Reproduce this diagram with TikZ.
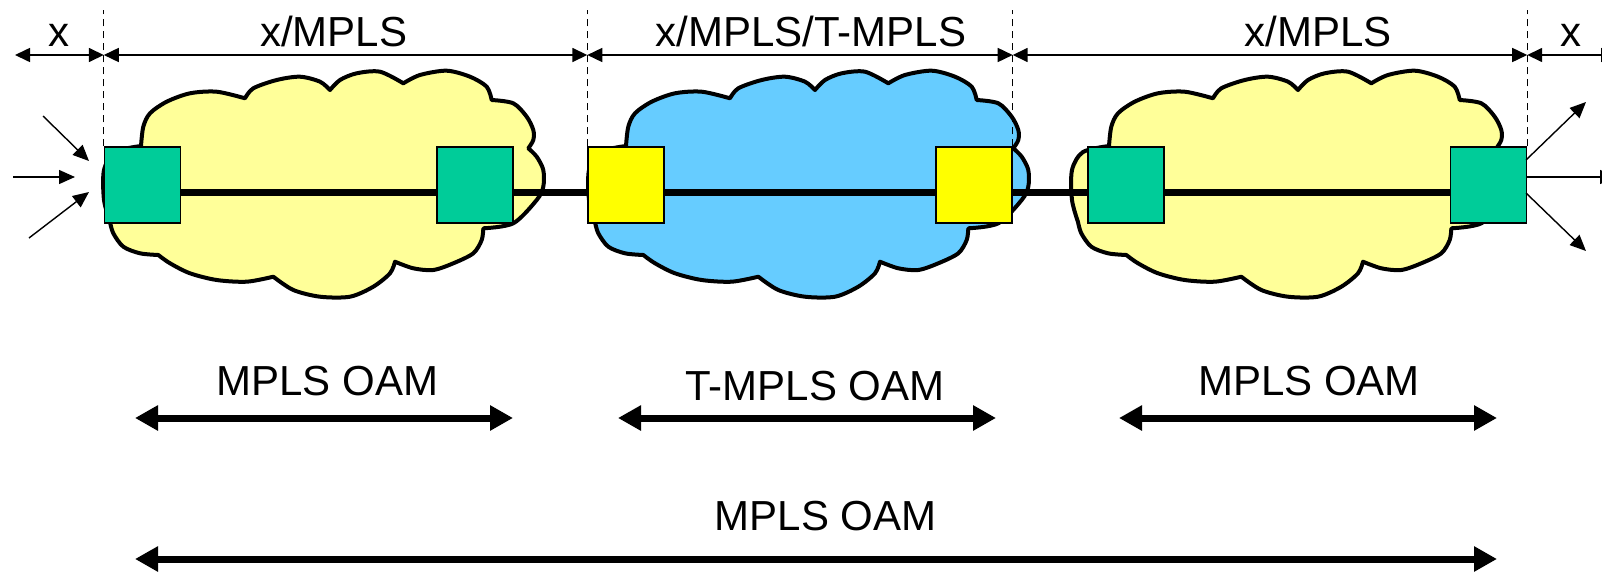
\documentclass[tikz,border=0pt]{standalone}
\usepackage{fontspec}
\setmainfont{Liberation Sans}
\usetikzlibrary{arrows.meta}

\definecolor{cloudyellow}{HTML}{FFFF99}
\definecolor{cloudblue}{HTML}{66CCFF}
\definecolor{nodegreen}{HTML}{00CC99}
\definecolor{nodeyellow}{HTML}{FFFF00}

\pgfdeclarelayer{clouds}
\pgfdeclarelayer{rails}
\pgfsetlayers{clouds,rails,main}

\tikzset{
  lbl/.style={font=\fontsize{21}{25}\selectfont, inner sep=0pt, anchor=base},
  nbox/.style={draw=black, line width=0.7pt, minimum width=38pt, minimum height=38pt, inner sep=0pt},
  greenbox/.style={nbox, fill=nodegreen},
  yellowbox/.style={nbox, fill=nodeyellow},
  cloudline/.style={draw=black, line width=2pt, line join=round},
  guide/.style={line width=0.6pt, dash pattern=on 3.5pt off 2.5pt},
  dim/.style={line width=0.8pt, arrows={Triangle[length=7.5pt,width=7pt]-Triangle[length=7.5pt,width=7pt]}},
  flow/.style={line width=0.7pt, arrows={-Triangle[length=8pt,width=7pt]}},
  rail/.style={line width=3.5pt},
  oam/.style={line width=3.5pt, arrows={Triangle[length=11.5pt,width=12pt]-Triangle[length=11.5pt,width=12pt]}}
}

% cloud outline built from lobes; #1 = horizontal shift, #2 = fill colour
\newcommand\cloudat[2]{%
  \draw[cloudline, fill=#2, shift={(#1,0)}]
    plot[smooth] coordinates {(141,146) (143.3,126.7) (150,113.3) (166.7,101.7) (190,93.3) (216.7,91.7) (245,98.3)}
    -- plot[smooth] coordinates {(245,98.3) (253.3,88.3) (276.7,80) (300,76.7) (320,81.7) (330,90)}
    -- plot[smooth] coordinates {(330,90) (340,80) (356.7,73.3) (380,71.7) (403.3,83.3)}
    -- plot[smooth] coordinates {(403.3,83.3) (420,75) (446.7,70.7) (470,76.7) (486.7,86.7) (491.7,100)}
    -- plot[smooth] coordinates {(491.7,100) (513.3,103.3) (526.7,116.7) (533.3,130) (533.3,140) (528.3,148.3)}
    -- plot[smooth] coordinates {(528.3,148.3) (536.7,156.7) (543.3,170) (543.3,186.7) (536.7,200) (513.3,223.3) (483.3,228.3)}
    -- plot[smooth] coordinates {(483.3,228.3) (481.7,240) (473.3,253.3) (453.3,263.3) (433.3,270) (413.3,268.3) (395,261.7)}
    -- plot[smooth] coordinates {(395,261.7) (390,273.3) (373.3,286.7) (350,296.7) (320,296.7) (293.3,290) (273.3,276.7)}
    -- plot[smooth] coordinates {(273.3,276.7) (246.7,281.7) (216.7,280) (190,273.3) (170,263.3) (158.3,255)}
    -- plot[smooth] coordinates {(158.3,255) (140,253.3) (123.3,246.7) (113.3,233.3) (110,222)}
    -- plot[smooth] coordinates {(110,222) (104,200) (104,170) (115,152) (141,146)}
    -- cycle;%
}

\begin{document}
\begin{tikzpicture}[x=0.5pt, y=-0.5pt]
  \useasboundingbox (0,0) rectangle (1602,573);

  % reference heights
  \coordinate (top) at (0,10);
  \coordinate (dim) at (0,55);
  \coordinate (rail) at (0,192);

  % domains
  \begin{pgfonlayer}{clouds}
    \cloudat{0}{cloudyellow}
    \cloudat{485}{cloudblue}
    \cloudat{968}{cloudyellow}
  \end{pgfonlayer}

  % edge and domain-border nodes
  \node[greenbox]  (b1) at (142.5,185) {};
  \node[greenbox]  (b2) at (475,185) {};
  \node[yellowbox] (y1) at (626,185) {};
  \node[yellowbox] (y2) at (974,185) {};
  \node[greenbox]  (b3) at (1126,185) {};
  \node[greenbox]  (b4) at (1488.5,185) {};

  % path through the domains, under the nodes
  \begin{pgfonlayer}{rails}
    \draw[rail] (b1.east |- rail) -- (b4.west |- rail);
  \end{pgfonlayer}

  % domain boundaries
  \draw[guide] (b1.north west) -- (b1.north west |- top);
  \draw[guide] (y1.north west) -- (y1.north west |- top);
  \draw[guide] (y2.north east) -- (y2.north east |- top);
  \draw[guide] (b4.north east) -- (b4.north east |- top);

  % layer extents
  \coordinate (dimL) at (15,55);
  \coordinate (dimR) at (1616,55);
  \draw[dim] (dimL) -- (b1.north west |- dim);
  \draw[dim] (b1.north west |- dim) -- (y1.north west |- dim);
  \draw[dim] (y1.north west |- dim) -- (y2.north east |- dim);
  \draw[dim] (y2.north east |- dim) -- (b4.north east |- dim);
  \draw[dim] (b4.north east |- dim) -- (dimR);

  \node[lbl] (tx1) at (59,46.7) {x};
  \node[lbl] (tm1) at (333.7,46.7) {x/MPLS};
  \node[lbl] (tmt) at (811,46.7) {x/MPLS/T-MPLS};
  \node[lbl] (tm2) at (1318,46.7) {x/MPLS};
  \node[lbl] (tx2) at (1571,46.7) {x};

  % client traffic in and out
  \coordinate (in1) at (43,116);
  \coordinate (in1e) at (89,161);
  \coordinate (in2) at (13,177);
  \coordinate (in2e) at (75,177);
  \coordinate (in3) at (29,238);
  \coordinate (in3e) at (89,192);
  \draw[flow] (in1) -- (in1e);
  \draw[flow] (in2) -- (in2e);
  \draw[flow] (in3) -- (in3e);

  \coordinate (out1s) at (1526,160);
  \coordinate (out2s) at (1526,177);
  \coordinate (out3s) at (1526,193);
  \coordinate (out1) at (1586,102);
  \coordinate (out2) at (1616,177);
  \coordinate (out3) at (1586,251);
  \draw[flow] (out1s) -- (out1);
  \draw[flow] (out2s) -- (out2);
  \draw[flow] (out3s) -- (out3);

  % OAM scopes
  \node[lbl] (oam1) at (327.5,395) {MPLS OAM};
  \node[lbl] (oam2) at (815,400) {T-MPLS OAM};
  \node[lbl] (oam3) at (1309,395) {MPLS OAM};
  \node[lbl] (oam4) at (825.8,530.7) {MPLS OAM};

  \coordinate (a1l) at (135,418);
  \coordinate (a1r) at (513,418);
  \coordinate (a2l) at (618,418);
  \coordinate (a2r) at (996,418);
  \coordinate (a3l) at (1119,418);
  \coordinate (a3r) at (1497,418);
  \coordinate (a4l) at (135,559);
  \coordinate (a4r) at (1497,559);
  \draw[oam] (a1l) -- (a1r);
  \draw[oam] (a2l) -- (a2r);
  \draw[oam] (a3l) -- (a3r);
  \draw[oam] (a4l) -- (a4r);
\end{tikzpicture}
\end{document}
